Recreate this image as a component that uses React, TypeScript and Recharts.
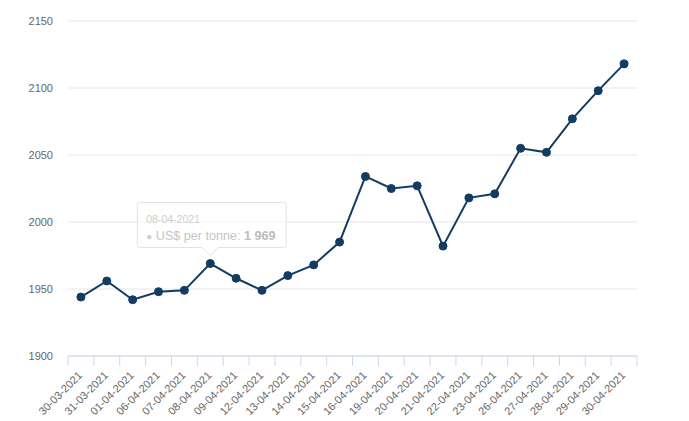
import React from "react";
import { LineChart, Line, XAxis, YAxis, CartesianGrid, LabelList } from "recharts";

const categories = [
  "30-03-2021", "31-03-2021", "01-04-2021", "06-04-2021", "07-04-2021", "08-04-2021",
  "09-04-2021", "12-04-2021", "13-04-2021", "14-04-2021", "15-04-2021", "16-04-2021",
  "19-04-2021", "20-04-2021", "21-04-2021", "22-04-2021", "23-04-2021", "26-04-2021",
  "27-04-2021", "28-04-2021", "29-04-2021", "30-04-2021",
];
const prices = [
  1944, 1956, 1942, 1948, 1949, 1969, 1958, 1949, 1960, 1968, 1985, 2034,
  2025, 2027, 1982, 2018, 2021, 2055, 2052, 2077, 2098, 2118,
];
const yTicks = [1900, 1950, 2000, 2050, 2100, 2150];
const seriesName = "US$ per tonne";
const tooltipIndex = 5;

const data = categories.map((c, i) => ({ date: c, price: prices[i] }));

const WIDTH = 689;
const HEIGHT = 421;
const LEFT = 68;
const RIGHT = 52;
const TOP = 21;
const XAXIS_H = 65;
const BAND = (WIDTH - LEFT - RIGHT) / categories.length;
const FONT = "'Liberation Sans', Arial, Helvetica, sans-serif";
const LINE_COLOR = "#133c62";

const fmt = (v: number) => String(v).replace(/\B(?=(\d{3})+(?!\d))/g, " ");

const XTick = (props: any) => {
  const { x, y, payload, index } = props;
  const last = index === categories.length - 1;
  const ax = x + 2;
  const ay = y + 20;
  return (
    <g>
      <line x1={x - BAND / 2} y1={y} x2={x - BAND / 2} y2={y + 10} stroke="#ccd6eb" strokeWidth={1} />
      {last && (
        <line x1={x + BAND / 2} y1={y} x2={x + BAND / 2} y2={y + 10} stroke="#ccd6eb" strokeWidth={1} />
      )}
      <text
        x={ax}
        y={ay}
        transform={`rotate(-45, ${ax}, ${ay})`}
        textAnchor="end"
        fontSize={11}
        fill="#666666"
        fontFamily={FONT}
      >
        {payload.value}
      </text>
    </g>
  );
};

const TooltipLabel = (props: any) => {
  const { x, y, index } = props;
  if (index !== tooltipIndex) return null;
  const bx = x - 73;
  const by = y - 61;
  return (
    <g fontFamily={FONT} pointerEvents="none">
      <path
        d={`M ${bx + 3} ${by} H ${bx + 146} Q ${bx + 149} ${by} ${bx + 149} ${by + 3} V ${by + 42} Q ${bx + 149} ${by + 45} ${bx + 146} ${by + 45} H ${x + 8} L ${x} ${y - 8} L ${x - 8} ${by + 45} H ${bx + 3} Q ${bx} ${by + 45} ${bx} ${by + 42} V ${by + 3} Q ${bx} ${by} ${bx + 3} ${by} Z`}
        fill="rgba(255,255,255,0.55)"
        stroke="#e2e2e2"
        strokeWidth={1}
      />
      <text x={bx + 9} y={by + 20} fontSize={10.5} fill="#cccccc">
        {categories[tooltipIndex]}
      </text>
      <text x={bx + 9} y={by + 37} fontSize={12.6} fill="#c4c4c4">
        <tspan fontSize={10} fill="#cfcfcf">●</tspan>
        <tspan> {seriesName}: </tspan>
        <tspan fontWeight="bold" fill="#bdbdbd">{fmt(prices[tooltipIndex])}</tspan>
      </text>
    </g>
  );
};

export default function App() {
  return (
    <div style={{ position: "absolute", left: 0, top: 0, width: WIDTH, height: HEIGHT, background: "#fff" }}>
      <LineChart
        width={WIDTH}
        height={HEIGHT}
        data={data}
        margin={{ top: TOP, right: RIGHT, bottom: 0, left: 0 }}
      >
        <CartesianGrid vertical={false} stroke="#e6e6e6" />
        <XAxis
          dataKey="date"
          interval={0}
          height={XAXIS_H}
          padding={{ left: BAND / 2, right: BAND / 2 }}
          tickLine={false}
          tickSize={0}
          tickMargin={0}
          axisLine={{ stroke: "#ccd6eb" }}
          tick={<XTick />}
        />
        <YAxis
          width={LEFT}
          domain={[1900, 2150]}
          ticks={yTicks}
          allowDataOverflow
          axisLine={false}
          tickLine={false}
          tickSize={0}
          tickMargin={15}
          tick={{ fontSize: 11, fill: "#666666", fontFamily: FONT }}
        />
        <Line
          type="linear"
          dataKey="price"
          stroke={LINE_COLOR}
          strokeWidth={2}
          dot={{ r: 4, fill: LINE_COLOR, stroke: LINE_COLOR, strokeWidth: 1 }}
          isAnimationActive={false}
        >
          <LabelList dataKey="price" content={<TooltipLabel />} />
        </Line>
      </LineChart>
    </div>
  );
}
